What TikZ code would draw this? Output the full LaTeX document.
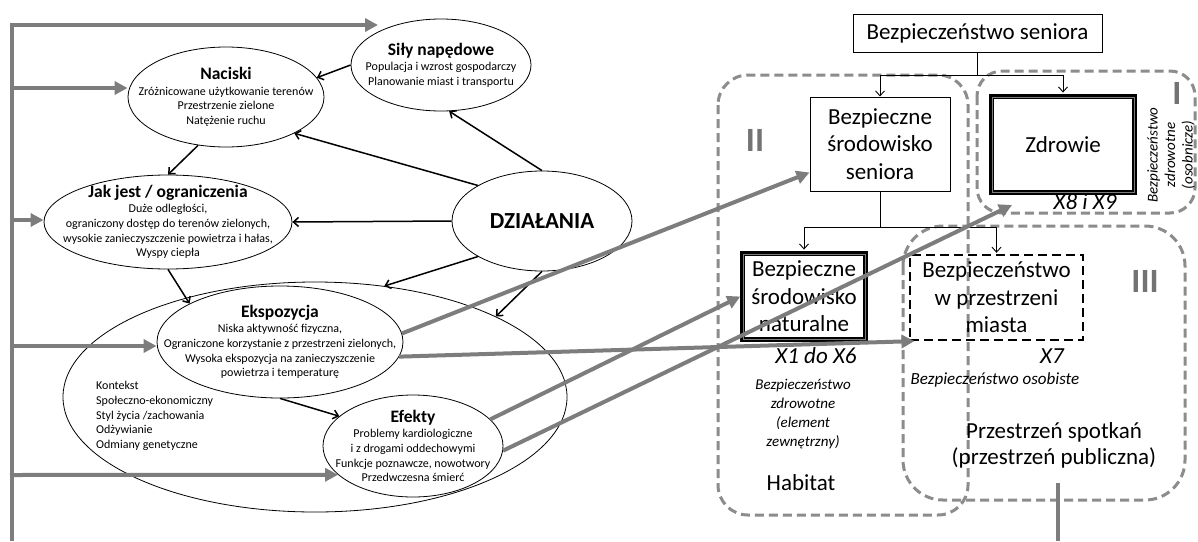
\documentclass[tikz,border=0pt]{standalone}
\usepackage{fontspec}
\setmainfont{Carlito}
\usetikzlibrary{arrows.meta,calc,shapes.geometric}
\definecolor{garr}{RGB}{125,125,125}
\definecolor{gdash}{RGB}{140,140,140}
\definecolor{groman}{RGB}{115,115,115}
\newcommand\myhd{\fontsize{17.5}{20}\selectfont\bfseries}
\newcommand\mybody{\fontsize{12}{14.7}\selectfont}
\newcommand\mybig{\fontsize{23}{27.5}\selectfont}
\begin{document}
\begin{tikzpicture}[x=1pt,y=-1pt,
  ell/.style={draw, ellipse, line width=0.8pt, inner sep=0pt},
  ltxt/.style={align=center, font=\mybody, inner sep=0pt},
  barrow/.style={-{Straight Barb[length=5pt,width=9pt]}, line width=1.5pt},
  garrow/.style={-{Triangle[length=13pt,width=13pt]}, line width=4pt, draw=garr},
  gline/.style={line width=4pt, draw=garr},
  region/.style={draw=gdash, line width=3pt, dash pattern=on 9pt off 5pt},
  rbox/.style={draw, line width=1pt, font=\mybig, align=center, inner sep=0pt},
  dbox/.style={draw, line width=3.5pt, font=\mybig, align=center, inner sep=0pt},
  tarrow/.style={-{Straight Barb[length=5pt,width=9pt]}, line width=0.9pt},
  roman/.style={font=\fontsize{34}{34}\selectfont\bfseries, text=groman, inner sep=0pt},
  itx/.style={font=\fontsize{23}{27.5}\selectfont\itshape, inner sep=0pt}
]
\fill[white] (0,0) rectangle (1198,541);
\useasboundingbox (0,0) rectangle (1198,541);

% dashed regions
\draw[region, rounded corners=30pt] (718,75) rectangle (968,515);
\draw[region, rounded corners=25pt] (977,71) rectangle (1195,213);
\draw[region, rounded corners=40pt] (903,226) rectangle (1185,500);

\node[roman] (r2) at (755,140) {II};
\node[roman] (r3) at (1145,281) {III};
\node[roman] (r1) at (1177,93) {I};

% left ellipses
\node[ell, minimum width=180pt, minimum height=92pt] (sn) at (441,65) {};
\node[ltxt] (sn-t) at (sn.center) {{\myhd Siły napędowe}\\[0.7pt]Populacja i wzrost gospodarczy\\Planowanie miast i transportu};

\node[ell, minimum width=196pt, minimum height=100pt] (nac) at (226,97) {};
\node[ltxt] (nac-t) at (nac.center) {{\myhd Naciski}\\[0.7pt]Zróżnicowane użytkowanie terenów\\Przestrzenie zielone\\Natężenie ruchu};

\node[ell, minimum width=248pt, minimum height=94pt] (jak) at (168,222) {};
\node[ltxt] (jak-t) at (jak.center) {{\myhd Jak jest / ograniczenia}\\[0.7pt]Duże odległości,\\ograniczony dostęp do terenów zielonych,\\wysokie zanieczyszczenie powietrza i hałas,\\Wyspy ciepła};

\node[ell, minimum width=504pt, minimum height=230pt] (ctx) at (315,397) {};
\node[align=left, font=\mybody, inner sep=0pt, anchor=west] (ctx-t) at (96,416) {Kontekst\\Społeczno-ekonomiczny\\Styl życia /zachowania\\Odżywianie\\Odmiany genetyczne};

\node[ell, minimum width=246pt, minimum height=112pt] (eks) at (280,342) {};
\node[ltxt] (eks-t) at (eks.center) {{\myhd Ekspozycja}\\[0.7pt]Niska aktywność fizyczna,\\Ograniczone korzystanie z przestrzeni zielonych,\\Wysoka ekspozycja na zanieczyszczenie\\powietrza i temperaturę};

\node[ell, minimum width=180pt, minimum height=102pt] (ef) at (413,446) {};
\node[ltxt] (ef-t) at (ef.center) {{\myhd Efekty}\\[0.7pt]Problemy kardiologiczne\\i z drogami oddechowymi\\Funkcje poznawcze, nowotwory\\Przedwczesna śmierć};

\node[ell, minimum width=180pt, minimum height=100pt, font=\fontsize{23}{27}\selectfont\bfseries] (dz) at (542,221) {DZIAŁANIA};

% black arrows
\draw[barrow] (sn.west) -- (nac.12);
\draw[barrow] (dz.north) -- (sn.-80);
\draw[barrow] (dz.151) -- (nac.-28);
\draw[barrow] (dz.west) -- (jak.east);
\draw[barrow] (dz.209) -- (ctx.58);
\draw[barrow] (dz.south) -- (ctx.24);
\draw[barrow] (nac.-120) -- (jak.north);
\draw[barrow] (jak.south) -- (eks.157);
\draw[barrow] (eks.south) -- (ef.158);

% right boxes
\node[rbox, minimum width=249pt, minimum height=38pt] (bs) at (977.5,33) {Bezpieczeństwo seniora};
\node[rbox, minimum width=140pt, minimum height=94pt] (bss) at (880,144) {Bezpieczne\\środowisko\\seniora};
\node[dbox, minimum width=144pt, minimum height=97pt] (zd) at (1063,144.5) {Zdrowie};
\draw[garr, line width=0.9pt] ([shift={(2.8,2.8)}]zd.north west) rectangle ([shift={(-2.8,-2.8)}]zd.south east);
\draw[line width=0.9pt] ([shift={(4.6,4.6)}]zd.north west) rectangle ([shift={(-4.6,-4.6)}]zd.south east);
\node[dbox, minimum width=124pt, minimum height=87pt] (bsn) at (804,296.5) {Bezpieczne\\środowisko\\naturalne};
\draw[garr, line width=0.9pt] ([shift={(2.8,2.8)}]bsn.north west) rectangle ([shift={(-2.8,-2.8)}]bsn.south east);
\draw[line width=0.9pt] ([shift={(4.6,4.6)}]bsn.north west) rectangle ([shift={(-4.6,-4.6)}]bsn.south east);
\node[rbox, line width=2.2pt, dash pattern=on 9pt off 5pt, minimum width=173pt, minimum height=85pt] (bsm) at (996.5,297.5) {Bezpieczeństwo\\w przestrzeni\\miasta};

\coordinate (j1) at ($(bs.south)+(0,23)$);
\draw[line width=0.9pt] (bs.south) -- (j1);
\draw[tarrow] (j1) -| (bss.north);
\draw[tarrow, shorten >=1.7pt] (j1) -| (zd.north);
\coordinate (j2) at ($(bss.south)+(0,36)$);
\draw[line width=0.9pt] (bss.south) -- (j2);
\draw[tarrow, shorten >=1.7pt] (j2) -| (bsn.north);
\draw[tarrow, shorten >=1.1pt] (j2) -| (bsm.north);

% right texts
\node[itx] (x16) at (816,356) {X1 do X6};
\node[itx] (x7) at (1052,356) {X7};
\node[itx] (x89) at (1085,202) {X8 i X9};
\node[font=\fontsize{17}{20}\selectfont\itshape, inner sep=0pt] (bo) at (995,380) {Bezpieczeństwo osobiste};
\node[font=\fontsize{15}{18.7}\selectfont\itshape, align=center, inner sep=0pt] (bz) at (803,414) {Bezpieczeństwo\\zdrowotne\\(element\\zewnętrzny)};
\node[font=\mybig, inner sep=0pt] (hab) at (801,483) {Habitat};
\node[font=\fontsize{23}{26}\selectfont, align=center, inner sep=0pt] (ps) at (1054,445) {Przestrzeń spotkań\\(przestrzeń publiczna)};
\node[font=\fontsize{15}{17.5}\selectfont\itshape, align=center, inner sep=0pt, rotate=90] (rot) at (1171,155) {Bezpieczeństwo\\zdrowotne\\(osobnicze)};

% gray arrows
\coordinate (lvb) at (12,541);
\coordinate (snin) at (378,25);
\draw[garrow] (lvb) |- (snin);
\coordinate (lv2) at (10,88);
\draw[garrow] (lv2) -- (lv2 -| nac.west);
\coordinate (lv3) at (10,220);
\draw[garrow] (lv3) -- (lv3 -| jak.west);
\coordinate (lv4) at (10,346);
\draw[garrow] (lv4) -- (lv4 -| eks.west);
\coordinate (lv5) at (10,475);
\draw[garrow] (lv5) -- (ef.201);

\coordinate (zin) at (1012,205);
\draw[garrow] (eks.4) -- (bss.202.5);
\draw[garrow] (eks.-7) -- (bsm.208);
\draw[garrow] (ef.19) -- (bsn.west);
\draw[garrow] (ef.-3) -- (zin);

\coordinate (b1) at (1058,483);
\coordinate (b2) at (1058,541);
\draw[gline] (b1) -- (b2);
\end{tikzpicture}
\end{document}
